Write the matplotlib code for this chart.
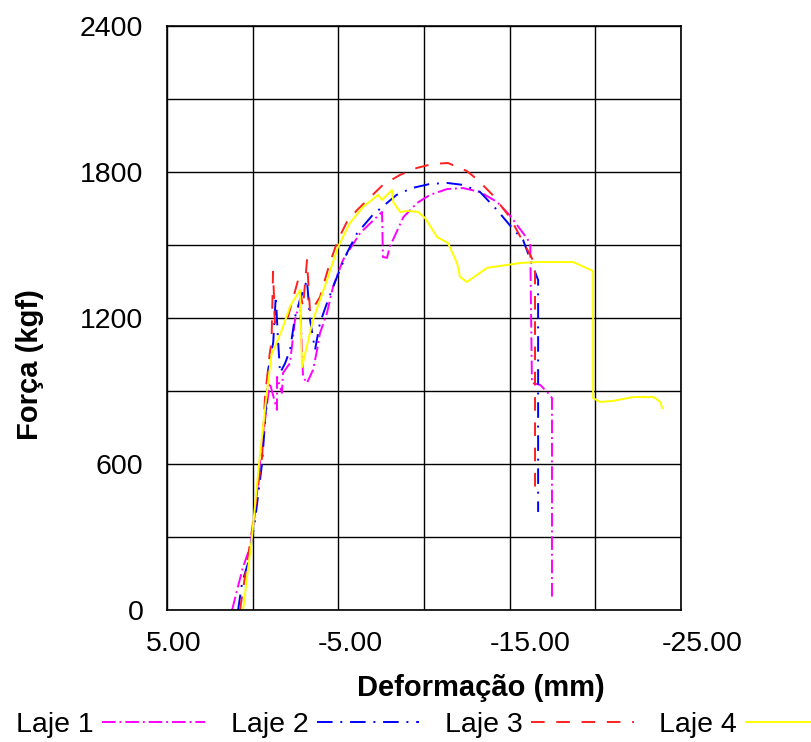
import matplotlib.pyplot as plt
from matplotlib.transforms import ScaledTranslation

plt.rcParams["font.family"] = ["Liberation Sans", "DejaVu Sans"]

# ============================================================
# DATA
# ============================================================

laje1_x = [1.2, 0.91, 0.56, 0.15, -0.14, -0.43, -0.72, -1.0, -1.42, -1.42, -1.71, -1.77, -2.18,
           -2.47, -2.76, -2.94, -3.17, -3.52, -3.76, -3.93, -4.34, -4.69, -5.27, -6.27, -7.55,
           -7.6, -7.84, -8.0, -8.8, -9.6, -10.35, -11.35, -12.28, -13.27, -14.26, -15.0, -15.78,
           -16.2, -16.3, -16.78, -17.24, -17.47, -17.47]
laje1_y = [0, 82, 177, 259, 399, 604, 781, 933, 822, 958, 892, 974, 1015,
           1192, 1274, 958, 933, 986, 1069, 1138, 1221, 1328, 1438, 1549, 1636,
           1451, 1447, 1492, 1615, 1673, 1706, 1730, 1734, 1718, 1677, 1623, 1549,
           1508, 933, 925, 892, 871, 53]

laje2_x = [0.85, 0.62, 0.27, -0.14, -0.55, -0.84, -0.9, -1.2, -1.35, -1.48, -1.6, -1.9, -2.18,
           -2.47, -2.76, -3.17, -3.35, -3.64, -3.93, -4.34, -4.92, -5.5, -6.1, -7.0, -8.4, -9.3,
           -10.35, -11.35, -12.28, -13.27, -14.26, -15.0, -15.78, -16.37, -16.66, -16.66]
laje2_y = [0, 111, 193, 370, 604, 892, 986, 1100, 1290, 1110, 974, 1015, 1069,
           1204, 1274, 1356, 1192, 1069, 1180, 1262, 1369, 1467, 1549, 1623, 1706, 1734,
           1751, 1755, 1747, 1718, 1644, 1582, 1521, 1410, 1356, 403]

laje3_x = [0.74, 0.33, -0.02, -0.55, -0.72, -1.0, -1.1, -1.19, -1.3, -2.06, -2.65, -2.94, -3.17,
           -3.35, -3.93, -4.5, -4.98, -5.5, -6.1, -7.6, -8.6, -9.6, -10.5, -11.4, -12.5, -13.15,
           -14.0, -15.0, -16.2, -16.48, -16.48]
laje3_y = [0, 193, 357, 629, 875, 1056, 1100, 1390, 1180, 1204, 1356, 1245, 1438,
           1221, 1286, 1426, 1521, 1595, 1644, 1747, 1788, 1817, 1833, 1837, 1804, 1767,
           1706, 1615, 1459, 1420, 505]

laje4_x = [0.56, 0.04, -0.37, -0.84, -1.1, -1.7, -2.2, -2.76, -2.88, -3.52, -4.34, -4.98, -5.68,
           -6.44, -7.32, -7.55, -8.13, -8.2, -8.6, -9.07, -9.65, -10.06, -10.76, -11.4, -11.93,
           -12.1, -12.5, -13.68, -14.85, -15.6, -16.6, -18.7, -19.87, -19.87, -20.28, -21.0,
           -22.2, -23.4, -23.8, -23.9]
laje4_y = [0, 300, 600, 900, 1050, 1150, 1250, 1315, 998, 1192, 1356, 1492, 1591,
           1656, 1706, 1685, 1726, 1677, 1636, 1640, 1636, 1611, 1533, 1508, 1426,
           1369, 1348, 1406, 1418, 1426, 1430, 1430, 1393, 871, 855, 859,
           875, 875, 855, 830]

x_ticks = [5, 0, -5, -10, -15, -20, -25]
x_labels = ["5.00", "", "-5.00", "", "-15.00", "", "-25.00"]
y_ticks = [0, 300, 600, 900, 1200, 1500, 1800, 2100, 2400]
y_labels = ["0", "", "600", "", "1200", "", "1800", "", "2400"]

SERIES = [
    ("Laje 1", laje1_x, laje1_y, "#FF00FF", (7, 2, 1, 2)),
    ("Laje 2", laje2_x, laje2_y, "#0000FF", (8, 4, 1, 4)),
    ("Laje 3", laje3_x, laje3_y, "#FF2020", (7, 6)),
    ("Laje 4", laje4_x, laje4_y, "#FFFF00", None),
]

# ============================================================
# PLOT
# ============================================================

fig = plt.figure(figsize=(8.11, 7.42), dpi=100)
ax = fig.add_axes([167 / 811, 132 / 742, 514 / 811, 584 / 742])

handles = []
for name, xs, ys, color, dashes in SERIES:
    line, = ax.plot(xs, ys, color=color, linewidth=1.4, label=name)
    if dashes:
        line.set_dashes(dashes)
    handles.append(line)

ax.set_xlim(5, -25)
ax.set_ylim(0, 2400)
ax.set_xticks(x_ticks)
ax.set_xticklabels(x_labels, fontsize=20.5)
ax.set_yticks(y_ticks)
ax.set_yticklabels(y_labels, fontsize=20.5)
ax.tick_params(length=0)
ax.tick_params(axis="x", pad=15)
ax.tick_params(axis="y", pad=17)
ax.grid(True, color="black", linewidth=1)
for spine in ax.spines.values():
    spine.set_linewidth(1.2)

# tick labels in the original sit a bit to the right of their gridline
x_offsets = [7, 0, 12, 0, 21, 0, 21]
for lab, dx in zip(ax.get_xticklabels(), x_offsets):
    lab.set_transform(lab.get_transform() + ScaledTranslation(dx / 100, 0, fig.dpi_scale_trans))

ax.set_xlabel("Deformação (mm)", fontsize=21, fontweight="bold")
ax.xaxis.set_label_coords(0.61, -0.11)
ax.set_ylabel("Força (kgf)", fontsize=21, fontweight="bold")
ax.yaxis.set_label_coords(-0.24, 0.42)

fig.legend(handles=handles, loc="lower left", bbox_to_anchor=(2 / 811, -10 / 742),
           ncol=4, frameon=False, markerfirst=False, fontsize=20.5,
           handlelength=3.6, handletextpad=0.3, columnspacing=0.9, borderpad=0)

plt.savefig("out.png", dpi=100)
